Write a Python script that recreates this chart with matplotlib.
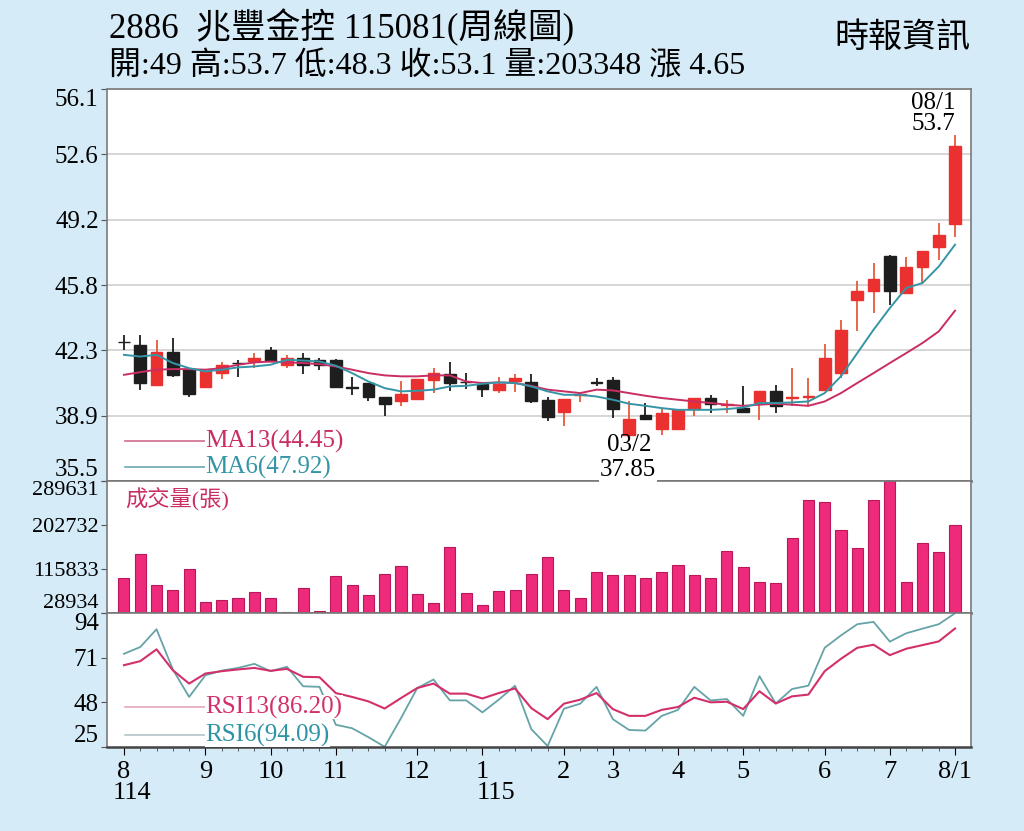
import matplotlib
matplotlib.use('Agg')
import matplotlib.pyplot as plt
from matplotlib.lines import Line2D
import numpy as np

# weekly candles, 2025/8/1 .. 2026/8/1 (52 weeks)
opens = [42.8, 42.67, 40.52, 42.28, 41.38, 40.43, 41.17, 41.7, 41.83, 42.4,
         41.61, 41.99, 41.87, 41.87, 40.4, 40.65, 39.91, 39.73, 39.82, 40.8,
         41.14, 40.7, 40.6, 40.26, 40.73, 40.7, 39.77, 39.1, 40.03, 40.67,
         40.82, 37.9, 38.98, 38.23, 38.23, 39.28, 39.86, 39.52, 39.36, 39.6,
         40.21, 39.87, 39.94, 40.26, 41.17, 44.99, 45.51, 47.35, 45.37, 46.77,
         47.82, 49.0]
highs = [43.18, 43.18, 42.89, 43.01, 41.4, 41.35, 41.73, 41.85, 42.22, 42.52,
         42.13, 42.25, 41.96, 41.92, 40.96, 40.65, 39.93, 40.73, 40.87, 41.43,
         41.73, 41.2, 40.61, 40.94, 41.12, 41.12, 39.91, 39.81, 40.12, 40.91,
         40.99, 39.68, 39.6, 39.33, 39.24, 39.86, 40.03, 39.77, 40.47, 40.21,
         40.52, 41.43, 40.91, 42.71, 43.97, 46.02, 46.95, 47.39, 47.25, 47.6,
         49.06, 53.7]
lows = [42.4, 40.26, 40.5, 40.96, 39.94, 40.43, 40.86, 40.95, 41.43, 41.82,
        41.43, 41.14, 41.35, 40.38, 40.03, 39.68, 38.94, 39.45, 39.82, 40.12,
        40.21, 40.33, 39.94, 40.12, 40.17, 39.6, 38.63, 38.4, 39.63, 40.47,
        38.81, 37.85, 38.77, 37.93, 38.23, 38.93, 39.07, 39.07, 39.1, 38.72,
        39.07, 39.42, 39.51, 40.26, 40.91, 43.36, 44.32, 44.76, 45.37, 45.9,
        47.13, 48.3]
closes = [42.78, 40.65, 42.28, 41.08, 40.08, 41.26, 41.57, 41.68, 41.99, 41.83,
          41.99, 41.61, 41.61, 40.42, 40.38, 39.94, 39.54, 40.08, 40.86, 41.15,
          40.65, 40.68, 40.33, 40.6, 40.91, 39.72, 38.86, 39.81, 40.08, 40.65,
          39.3, 38.77, 38.77, 39.07, 39.24, 39.86, 39.56, 39.56, 39.12, 40.21,
          39.42, 39.91, 39.98, 41.99, 43.41, 45.51, 46.13, 45.51, 46.72, 47.6,
          48.45, 53.1]

ma13 = [41.08, 41.22, 41.35, 41.38, 41.38, 41.35, 41.43, 41.61, 41.73, 41.78,
        41.73, 41.7, 41.64, 41.52, 41.35, 41.17, 41.05, 41.0, 41.0, 41.05,
        41.05, 40.73, 40.65, 40.68, 40.65, 40.5, 40.3, 40.21, 40.12, 40.3,
        40.26, 40.12, 39.98, 39.86, 39.77, 39.68, 39.6, 39.51, 39.45, 39.51,
        39.56, 39.51, 39.45, 39.68, 40.12, 40.65, 41.17, 41.7, 42.22, 42.75,
        43.36, 44.45]
ma6 = [42.13, 42.04, 42.13, 41.7, 41.43, 41.26, 41.35, 41.47, 41.52, 41.61,
       41.87, 41.83, 41.78, 41.56, 41.17, 40.73, 40.38, 40.21, 40.24, 40.3,
       40.47, 40.5, 40.61, 40.68, 40.65, 40.47, 40.21, 40.03, 40.03, 39.94,
       39.77, 39.56, 39.45, 39.33, 39.24, 39.24, 39.24, 39.28, 39.36, 39.6,
       39.6, 39.63, 39.68, 40.12, 41.0, 42.22, 43.45, 44.59, 45.64, 45.9,
       46.77, 47.92]

volume = [97400, 144900, 83600, 73800, 116400, 50700, 55200, 57900, 69800, 57900,
          31000, 78900, 33500, 101400, 83600, 64500, 105400, 122400, 65900, 49300,
          159900, 68400, 45300, 72400, 73800, 106600, 140100, 75000, 57900, 110500,
          104000, 104000, 97400, 110500, 123100, 104000, 97400, 151400, 119800, 90200,
          88800, 177700, 252100, 248800, 192900, 156700, 251500, 289631, 90800, 166600,
          148800, 203348]

rsi13 = [67.2, 69.3, 75.4, 64.6, 57.7, 62.9, 64.1, 65.0, 65.8, 64.3,
         65.3, 61.2, 61.0, 52.8, 50.8, 48.5, 44.8, 50.2, 55.4, 57.7,
         52.5, 52.5, 50.0, 52.8, 55.2, 45.0, 39.3, 47.3, 49.4, 52.8,
         44.5, 41.0, 41.0, 44.1, 45.6, 50.4, 48.0, 48.3, 44.5, 53.7,
         47.4, 51.1, 52.0, 64.1, 70.5, 76.2, 77.8, 72.4, 75.7, 77.6,
         79.5, 86.2]
rsi6 = [73.1, 76.6, 85.8, 65.0, 50.8, 62.0, 64.4, 65.8, 67.9, 64.1,
        66.4, 56.3, 56.0, 36.4, 34.6, 30.0, 25.0, 39.8, 55.4, 59.8,
        49.0, 49.0, 42.8, 49.4, 56.6, 34.1, 25.4, 44.7, 47.3, 56.0,
        39.3, 33.7, 33.4, 41.0, 44.1, 56.0, 49.0, 49.7, 41.0, 61.5,
        47.4, 54.9, 56.6, 76.2, 82.6, 88.4, 89.6, 79.4, 83.7, 86.1,
        88.4, 94.09]

month_pos = [0, 5, 9, 13, 18, 22, 27, 30, 34, 38, 43, 47, 51]
month_labels = ['8', '9', '10', '11', '12', '1', '2', '3', '4', '5', '6', '7', '8/1']
price_labels = ['35.5', '38.9', '42.3', '45.8', '49.2', '52.6', '56.1']
vol_ticks = [28934, 115833, 202732, 289631]
rsi_ticks = [25, 48, 71, 94]

W, H = 1024, 831
BG = '#d5ebf8'
RED = '#ea3130'
BLACK = '#1e1e1e'
MAGENTA = '#c92d62'
TEAL = '#3595a6'
FONT = ['Liberation Serif', 'Noto Sans CJK TC']
plt.rcParams['font.family'] = FONT


def box(l, t, r, b):
    return [l / W, 1 - b / H, (r - l) / W, (b - t) / H]


def fx(x):
    return x / W


def fy(y):
    return 1 - y / H


fig = plt.figure(figsize=(W / 100, H / 100), dpi=100, facecolor=BG)
ax1 = fig.add_axes(box(107, 89, 971, 481))
ax2 = fig.add_axes(box(107, 481, 971, 613))
ax3 = fig.add_axes(box(107, 613, 971, 747))

x = np.arange(len(closes))
xlim = (-1.04, 51.98)

# ---- price panel
for i in x:
    o, h, l, c = opens[i], highs[i], lows[i], closes[i]
    up = c >= o
    col = RED if up else BLACK
    wick = '#e35a3b' if up else BLACK
    ax1.vlines(i, l, h, color=wick, lw=1.3, zorder=2)
    ax1.bar(i, max(abs(c - o), 0.04), bottom=min(o, c), width=0.72,
            color=col, edgecolor=col if up else BLACK, lw=1.0, zorder=3)

ax1.plot(x, ma13, color=MAGENTA, lw=1.4, zorder=4)
ax1.plot(x, ma6, color=TEAL, lw=1.4, zorder=4)

ax1.set_xlim(*xlim)
ax1.set_ylim(35.5, 56.1)
ax1.set_yticks(np.linspace(35.5, 56.1, 7))
ax1.set_yticklabels(price_labels)
ax1.set_xticks([])
ax1.grid(axis='y', color='#cfcfcf', lw=1.2)
ax1.set_axisbelow(True)
labs = ax1.get_yticklabels()
labs[0].set_va('bottom')
labs[-1].set_va('top')

ax1.text(51, 55.95, '08/1\n53.7', ha='right', va='top', fontsize=18,
         linespacing=0.95, zorder=6)
ax1.text(31, 37.38, '03/2', ha='center', va='center', fontsize=18, zorder=6)

# ---- volume panel
ax2.bar(x, volume, width=0.68, color='#ee2a7b', edgecolor='#b8185a', lw=0.8)
ax2.set_xlim(*xlim)
ax2.set_ylim(vol_ticks[0], vol_ticks[-1])
ax2.set_yticks(vol_ticks)
ax2.set_yticklabels([str(v) for v in vol_ticks])
ax2.set_xticks([])
labs = ax2.get_yticklabels()
labs[0].set_va('bottom')
labs[-1].set_va('top')
ax2.text(0.021, 0.86, '成交量(張)', transform=ax2.transAxes, fontsize=16,
         color=MAGENTA, va='center', ha='left')

# ---- RSI panel
ax3.plot(x, rsi13, color='#d3306b', lw=1.5, zorder=3)
ax3.plot(x, rsi6, color='#66a3a8', lw=1.3, zorder=2)
ax3.set_xlim(*xlim)
ax3.set_ylim(24.9, 94.2)
ax3.set_yticks(rsi_ticks)
ax3.set_yticklabels([str(v) for v in rsi_ticks])
labs = ax3.get_yticklabels()
labs[0].set_va('bottom')
labs[-1].set_va('top')
ax3.set_xticks(month_pos)
ax3.set_xticklabels(month_labels)
ax3.set_xticks(x, minor=True)
ax3.tick_params(axis='x', which='major', length=6, pad=4, labelsize=19)
ax3.tick_params(axis='x', which='minor', length=3, color='#444')

for ax in (ax1, ax2, ax3):
    ax.set_facecolor('white')
    ax.tick_params(axis='y', length=4, pad=2, labelsize=17, color='#555')
    for s in ax.spines.values():
        s.set_color('#7a7a7a')
        s.set_linewidth(1.2)
ax1.tick_params(axis='y', labelsize=18)
ax2.tick_params(axis='y', labelsize=16)
ax3.tick_params(axis='y', labelsize=18)
for ax in (ax1, ax2):
    ax.spines['bottom'].set_color('#555555')
    ax.spines['bottom'].set_linewidth(1.8)
ax3.spines['bottom'].set_color('#444444')
ax3.spines['bottom'].set_linewidth(1.8)

# low annotation sits on the panel divider, white behind it
fig.text(fx(628), fy(470), '37.85', ha='center', va='center', fontsize=18,
         zorder=10, bbox=dict(facecolor='white', edgecolor='none', pad=0.5))

# legends drawn as line + text, like the source
legend_items = [
    (441, MAGENTA, '#d06a8d', 'MA13(44.45)'),
    (467, TEAL, '#6aa8b4', 'MA6(47.92)'),
    (707, '#d3306b', '#e6a9bd', 'RSI13(86.20)'),
    (735, '#2e93a5', '#b3c6c8', 'RSI6(94.09)'),
]
for yy, tcol, lcol, label in legend_items:
    fig.add_artist(Line2D([fx(125), fx(205)], [fy(yy), fy(yy)], color=lcol,
                          lw=1.2, transform=fig.transFigure, zorder=5))
    fig.text(fx(205), fy(yy), label, color=tcol, fontsize=18, va='center',
             ha='left', zorder=6,
             bbox=dict(facecolor='white', edgecolor='none', pad=0.3))

# header
fig.text(fx(109), fy(28), '2886  兆豐金控 115081(周線圖)', fontsize=25,
         va='center', ha='left')
fig.text(fx(109), fy(67), '開:49 高:53.7 低:48.3 收:53.1 量:203348 漲 4.65',
         fontsize=23, va='center', ha='left')
fig.text(fx(970), fy(38), '時報資訊', fontsize=24.5, va='center', ha='right')

# year labels under the month axis
fig.text(fx(113), fy(793), '114', fontsize=19, va='center', ha='left')
fig.text(fx(477), fy(793), '115', fontsize=19, va='center', ha='left')

fig.savefig('out.png', dpi=100, facecolor=BG)
